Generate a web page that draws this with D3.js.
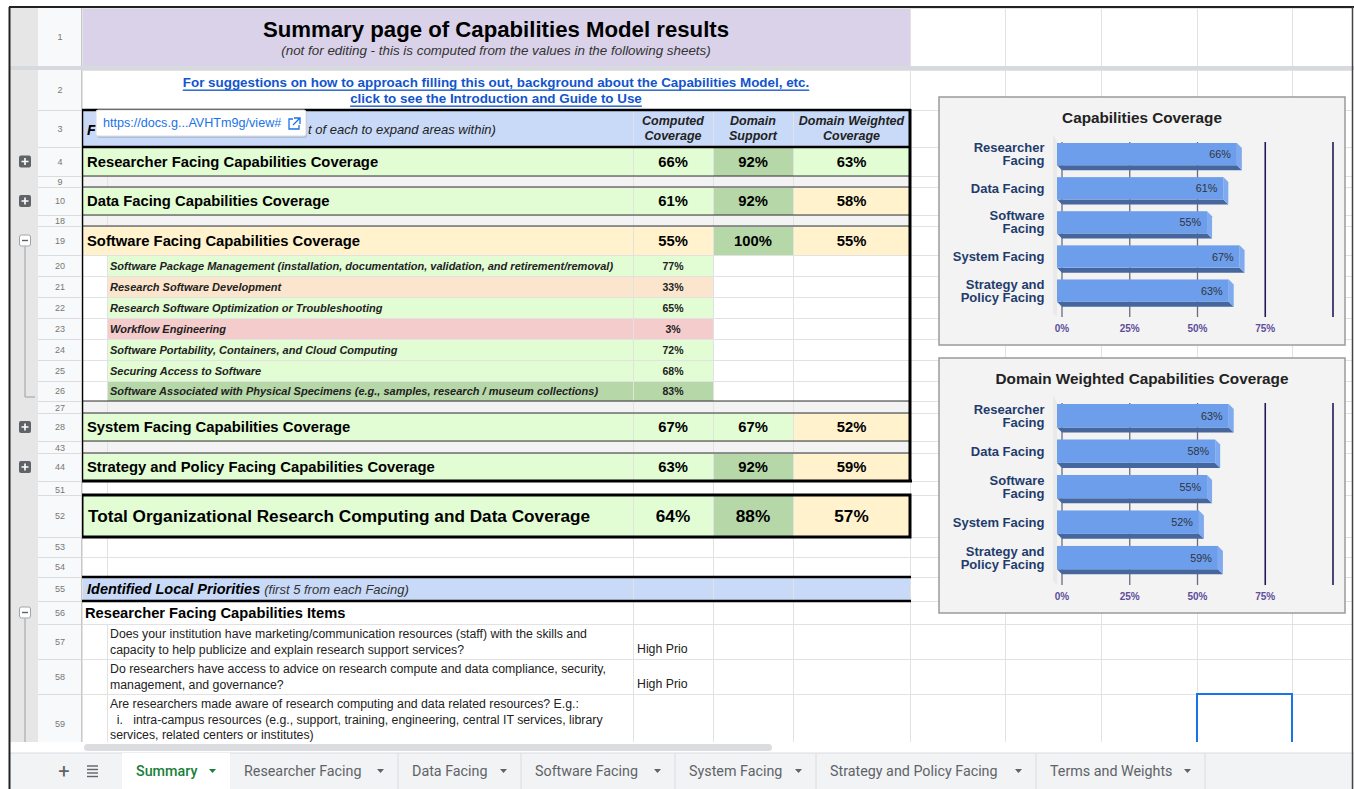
<!DOCTYPE html>
<html>
<head>
<meta charset="utf-8">
<script src="https://cdn.jsdelivr.net/npm/d3@7"></script>
<style>
  html, body { margin: 0; padding: 0; background: #fff; overflow: hidden; }
  svg { display: block; font-family: "Liberation Sans", Arial, sans-serif; }
</style>
</head>
<body>
<div id="sheet"></div>
<script>
// values
const facings = ["Researcher Facing", "Data Facing", "Software Facing", "System Facing", "Strategy and Policy Facing"];
const facingRows = [4, 10, 19, 28, 44];
const computedCoverage = [66, 61, 55, 67, 63];
const domainSupport = [92, 92, 100, 67, 92];
const weightedCoverage = [63, 58, 55, 52, 59];
const totalCoverage = [64, 88, 57];

const softwareItems = [
    "Software Package Management (installation, documentation, validation, and retirement/removal)",
    "Research Software Development",
    "Research Software Optimization or Troubleshooting",
    "Workflow Engineering",
    "Software Portability, Containers, and Cloud Computing",
    "Securing Access to Software",
    "Software Associated with Physical Specimens (e.g., samples, research / museum collections)"
];
const softwareCoverage = [77, 33, 65, 3, 72, 68, 83];

const chartLabels = [["Researcher", "Facing"], ["Data Facing"], ["Software", "Facing"], ["System Facing"], ["Strategy and", "Policy Facing"]];
const axisTicks = [0, 25, 50, 75, 100];

const priorityQuestions = [
    ["Does your institution have marketing/communication resources (staff) with the skills and",
     "capacity to help publicize and explain research support services?"],
    ["Do researchers have access to advice on research compute and data compliance, security,",
     "management, and governance?"],
    ["Are researchers made aware of research computing and data related resources? E.g.:",
     "  i.   intra-campus resources (e.g., support, training, engineering, central IT services, library",
     "services, related centers or institutes)"]
];
const priorityFlags = ["High Prio", "High Prio", ""];

const tabNames = ["Summary", "Researcher Facing", "Data Facing", "Software Facing", "System Facing", "Strategy and Policy Facing", "Terms and Weights"];

// sheet geometry
const W = 1354, H = 789;
const colX = [82, 107, 633, 713, 793, 910, 1005, 1101, 1197, 1292, 1352];
const rowNums = [1, 2, 3, 4, 9, 10, 18, 19, 20, 21, 22, 23, 24, 25, 26, 27, 28, 43, 44, 51, 52, 53, 54, 55, 56, 57, 58, 59];
const rowHs =   [58, 40, 37, 29, 11, 28, 11, 29, 21, 21, 21, 21, 21, 21, 20, 12, 28, 12, 28, 14, 42, 20, 20, 24, 23, 35, 35, 60];
const tabEdges = [122, 230, 398, 521, 675, 816, 1036, 1205];

const rowTop = {}, rowH = {};
let yy = 8;
rowNums.forEach((r, i) => {
    rowTop[r] = yy; rowH[r] = rowHs[i];
    yy += rowHs[i];
    if (r === 1) yy += 4;   // frozen row divider
});
const mid = r => rowTop[r] + rowH[r] / 2;
const colMid = c => (colX[c] + colX[c + 1]) / 2;

function fillFor(v) {
    if (v < 10) return "#f4cccc";
    if (v < 50) return "#fce5cd";
    if (v < 60) return "#fff2cc";
    if (v < 80) return "#e2fcd4";
    return "#b6d7a8";
}

const svg = d3.select("#sheet").append("svg").attr("width", W).attr("height", H);

svg.append("clipPath").attr("id", "gridClip")
    .append("rect").attr("x", 0).attr("y", 0).attr("width", W).attr("height", 742);

const grid = svg.append("g").attr("clip-path", "url(#gridClip)");

function cell(r, c0, c1, fill) {
    grid.append("rect")
        .attr("x", colX[c0]).attr("y", rowTop[r])
        .attr("width", colX[c1 + 1] - colX[c0]).attr("height", rowH[r])
        .attr("fill", fill || "#fff")
        .attr("stroke", "#e2e2e2").attr("stroke-width", 1)
        .attr("shape-rendering", "crispEdges");
}

function txt(parent, x, y, s, o) {
    o = o || {};
    return parent.append("text")
        .attr("x", x).attr("y", y)
        .attr("dominant-baseline", "central")
        .attr("text-anchor", o.anchor || "start")
        .attr("font-size", o.size || 12)
        .attr("font-weight", o.weight || "normal")
        .attr("font-style", o.style || "normal")
        .attr("fill", o.fill || "#000")
        .attr("text-decoration", o.deco || null)
        .text(s);
}

// build cells row by row
rowNums.forEach(r => {
    const fi = facingRows.indexOf(r);
    const si = r - 20;
    if (r === 1) { cell(r, 0, 4, "#d9d2e9"); }
    else if (r === 2) { cell(r, 0, 4); }
    else if (r === 3 || r === 55) { cell(r, 0, 1, "#c9daf8"); [2, 3, 4].forEach(c => cell(r, c, c, "#c9daf8")); }
    else if (fi >= 0) {
        cell(r, 0, 1, fillFor(computedCoverage[fi]));
        cell(r, 2, 2, fillFor(computedCoverage[fi]));
        cell(r, 3, 3, fillFor(domainSupport[fi]));
        cell(r, 4, 4, fillFor(weightedCoverage[fi]));
    }
    else if ([9, 18, 27, 43].includes(r)) { [0, 1, 2, 3, 4].forEach(c => cell(r, c, c, "#f3f3f3")); }
    else if (si >= 0 && si < softwareItems.length) {
        cell(r, 0, 0);
        cell(r, 1, 1, fillFor(softwareCoverage[si]));
        cell(r, 2, 2, fillFor(softwareCoverage[si]));
        cell(r, 3, 3); cell(r, 4, 4);
    }
    else if (r === 52) {
        cell(r, 0, 1, fillFor(totalCoverage[0]));
        cell(r, 2, 2, fillFor(totalCoverage[0]));
        cell(r, 3, 3, fillFor(totalCoverage[1]));
        cell(r, 4, 4, fillFor(totalCoverage[2]));
    }
    else if (r === 56) { cell(r, 0, 1); [2, 3, 4].forEach(c => cell(r, c, c)); }
    else { [0, 1, 2, 3, 4].forEach(c => cell(r, c, c)); }
    // columns right of the table
    for (let c = 5; c < 10; c++) cell(r, c, c);
});

// cell texts
const tableMid = (colX[0] + colX[5]) / 2;
txt(grid, tableMid, 29, "Summary page of Capabilities Model results", { anchor: "middle", size: 22.2, weight: "bold" });
txt(grid, tableMid, 50, "(not for editing - this is computed from the values in the following sheets)", { anchor: "middle", size: 13.4, style: "italic", fill: "#333" });
txt(grid, tableMid, 82, "For suggestions on how to approach filling this out, background about the Capabilities Model, etc.", { anchor: "middle", size: 13.4, weight: "bold", fill: "#1155cc", deco: "underline" });
txt(grid, tableMid, 98, "click to see the Introduction and Guide to Use", { anchor: "middle", size: 13.4, weight: "bold", fill: "#1155cc", deco: "underline" });

// row 3 heading, partly hidden by the link preview popup
txt(grid, 87, mid(3) + 1, "F", { size: 14.5, weight: "bold", style: "italic" });
txt(grid, 308, mid(3) + 1, "t of each to expand areas within)", { size: 13, style: "italic", fill: "#222" });

[["Computed", "Coverage"], ["Domain", "Support"], ["Domain Weighted", "Coverage"]].forEach((lines, i) => {
    lines.forEach((l, j) => txt(grid, colMid(i + 2), 121 + j * 15, l, { anchor: "middle", size: 12.5, weight: "bold", style: "italic", fill: "#222" }));
});

facings.forEach((f, i) => {
    const r = facingRows[i];
    txt(grid, 87, mid(r), f + " Capabilities Coverage", { size: 14.8, weight: "bold" });
    txt(grid, colMid(2), mid(r), computedCoverage[i] + "%", { anchor: "middle", size: 14.8, weight: "bold" });
    txt(grid, colMid(3), mid(r), domainSupport[i] + "%", { anchor: "middle", size: 14.8, weight: "bold" });
    txt(grid, colMid(4), mid(r), weightedCoverage[i] + "%", { anchor: "middle", size: 14.8, weight: "bold" });
});

softwareItems.forEach((s, i) => {
    const r = 20 + i;
    txt(grid, 110, mid(r), s, { size: 11, weight: "bold", style: "italic", fill: "#222" });
    txt(grid, colMid(2), mid(r), softwareCoverage[i] + "%", { anchor: "middle", size: 10.5, weight: "bold", fill: "#222" });
});

txt(grid, 88, mid(52), "Total Organizational Research Computing and Data Coverage", { size: 17.2, weight: "bold" });
totalCoverage.forEach((v, i) => txt(grid, colMid(i + 2), mid(52), v + "%", { anchor: "middle", size: 17.2, weight: "bold" }));

const r55 = grid.append("text").attr("x", 87).attr("y", mid(55)).attr("dominant-baseline", "central");
r55.append("tspan").attr("font-size", 14.5).attr("font-weight", "bold").attr("font-style", "italic").text("Identified Local Priorities ");
r55.append("tspan").attr("font-size", 13).attr("font-style", "italic").attr("fill", "#333").text("(first 5 from each Facing)");

txt(grid, 85, mid(56), "Researcher Facing Capabilities Items", { size: 14.7, weight: "bold" });

priorityQuestions.forEach((lines, i) => {
    const r = 57 + i;
    lines.forEach((l, j) => txt(grid, 110, rowTop[r] + 10 + j * 15.5, l, { size: 12.3, fill: "#222" }).attr("xml:space", "preserve"));
    if (priorityFlags[i]) txt(grid, 637, rowTop[r] + rowH[r] - 10, priorityFlags[i], { size: 12.3, fill: "#222" });
});

// heavy borders
function hline(y, x0, x1, w, c) {
    grid.append("line").attr("x1", x0).attr("x2", x1).attr("y1", y).attr("y2", y)
        .attr("stroke", c || "#000").attr("stroke-width", w);
}
function vline(x, y0, y1, w, c) {
    grid.append("line").attr("x1", x).attr("x2", x).attr("y1", y0).attr("y2", y1)
        .attr("stroke", c || "#000").attr("stroke-width", w);
}
hline(110, 81, 911, 2.5);
hline(147, 81, 911, 2.5);
[176, 187, 215, 226, 401, 413, 441, 453].forEach(y => hline(y, 82, 910, 1.2, "#333"));
hline(481, 81, 912, 3);
vline(82, 109, 482, 2.5);
vline(910, 109, 482, 3);
grid.append("rect").attr("x", 82).attr("y", 495).attr("width", 828).attr("height", 42)
    .attr("fill", "none").attr("stroke", "#000").attr("stroke-width", 3);
hline(577, 81, 911, 2.5);
hline(601, 81, 911, 2.5);

// selected cell
grid.append("rect").attr("x", colX[8]).attr("y", rowTop[59]).attr("width", colX[9] - colX[8]).attr("height", 50)
    .attr("fill", "none").attr("stroke", "#1a73e8").attr("stroke-width", 2);

// row header and grouping gutter
const side = svg.append("g").attr("clip-path", "url(#gridClip)");
side.append("rect").attr("x", 10).attr("y", 8).attr("width", 28).attr("height", 734).attr("fill", "#e6e6e6");
side.append("rect").attr("x", 38).attr("y", 8).attr("width", 44).attr("height", 734).attr("fill", "#f8f9fa");
vline(38, 8, 742, 1, "#c8c8c8");
rowNums.forEach(r => {
    side.append("line").attr("x1", 38).attr("x2", 82).attr("y1", rowTop[r] + rowH[r]).attr("y2", rowTop[r] + rowH[r])
        .attr("stroke", "#dcdcdc").attr("shape-rendering", "crispEdges");
    side.append("text").attr("x", 60).attr("y", rowH[r] < 15 ? rowTop[r] + rowH[r] - 2 : mid(r))
        .attr("text-anchor", "middle").attr("dominant-baseline", rowH[r] < 15 ? "auto" : "central")
        .attr("font-size", 9).attr("fill", "#777").text(r);
});
side.append("line").attr("x1", 81.5).attr("x2", 81.5).attr("y1", 8).attr("y2", 742).attr("stroke", "#c8c8c8");

[4, 10, 28, 44].forEach(r => {
    const cy = mid(r);
    side.append("rect").attr("x", 19).attr("y", cy - 6).attr("width", 12).attr("height", 12).attr("rx", 2).attr("fill", "#5f6368");
    side.append("path").attr("d", `M21.5,${cy}H28.5M25,${cy - 3.5}V${cy + 3.5}`).attr("stroke", "#fff").attr("stroke-width", 1.6);
});
[19, 56].forEach(r => {
    const cy = mid(r);
    side.append("rect").attr("x", 19.5).attr("y", cy - 5.5).attr("width", 11).attr("height", 11).attr("rx", 2)
        .attr("fill", "#fff").attr("stroke", "#a0a4a8");
    side.append("path").attr("d", `M22,${cy}H28`).attr("stroke", "#5f6368").attr("stroke-width", 1.4);
});
side.append("path").attr("d", `M25,${mid(19) + 6}V${rowTop[26] + 16}H35`).attr("fill", "none").attr("stroke", "#9aa0a6");
side.append("path").attr("d", `M25,${mid(56) + 6}V742`).attr("fill", "none").attr("stroke", "#9aa0a6");

// frozen row divider
svg.append("rect").attr("x", 10).attr("y", 66).attr("width", W - 10).attr("height", 4).attr("fill", "#d6d9de");

// link preview popup over row 3
const tip = svg.append("g");
tip.append("rect").attr("x", 97).attr("y", 112).attr("width", 210).attr("height", 26).attr("rx", 2)
    .attr("fill", "#000").attr("opacity", 0.12);
tip.append("rect").attr("x", 96).attr("y", 110).attr("width", 210).attr("height", 26).attr("rx", 2)
    .attr("fill", "#fff").attr("stroke", "#dadce0");
txt(tip, 103, 123, "https://docs.g...AVHTm9g/view#", { size: 12.6, fill: "#1a73e8" });
tip.append("path").attr("d", "M293,119H289V129H299V125M294,118H300V124M300,118L293,125")
    .attr("fill", "none").attr("stroke", "#1a73e8").attr("stroke-width", 1.3);

// ---- the two 3D bar charts ----
function drawChart(y0, h, title, values) {
    const g = svg.append("g").attr("transform", `translate(939,${y0})`);
    g.append("rect").attr("width", 406).attr("height", h)
        .attr("fill", "#f3f3f3").attr("stroke", "#9b9b9b").attr("stroke-width", 1.5);
    txt(g, 203, 20, title, { anchor: "middle", size: 15.3, weight: "bold", fill: "#222" });

    const gridTop = 45, gridBottom = h - 28, depth = 5;
    const x = d3.scaleLinear().domain([0, 100]).range([123, 394]);
    const y = d3.scaleBand().domain(facings).range([gridTop + 1, gridBottom])
        .paddingInner(0.2).paddingOuter(0.15).align(0);
    const maxV = d3.max(values);

    // faint side wall of the 3D plot
    g.append("path")
        .attr("d", `M${x(0) - 9},${gridTop - 8}L${x(0) - 5},${gridTop}V${gridBottom}L${x(0) - 9},${gridBottom - 4}Z`)
        .attr("fill", "#e9e9e9");

    g.selectAll("line.grid").data(axisTicks).join("line")
        .attr("class", "grid")
        .attr("x1", d => x(d)).attr("x2", d => x(d))
        .attr("y1", gridTop).attr("y2", gridBottom)
        .attr("stroke", d => d < maxV ? "#6c6a80" : "#201a58")
        .attr("stroke-width", d => d < maxV ? 1.3 : 1.6);

    g.selectAll("text.tick").data(axisTicks.filter(d => d < 100)).join("text")
        .attr("class", "tick")
        .attr("x", d => x(d)).attr("y", gridBottom + 11)
        .attr("text-anchor", "middle").attr("dominant-baseline", "central")
        .attr("font-size", 10).attr("font-weight", "bold").attr("fill", "#5e4e9c")
        .text(d => d + "%");

    const bars = g.selectAll("g.bar").data(facings).join("g").attr("class", "bar");
    bars.each(function (f, i) {
        const b = d3.select(this);
        const yt = y(f), yb = y(f) + y.bandwidth() - depth;
        const xl = x(0) - 5, xr = x(values[i]) - 4;
        b.append("path").attr("d", `M${xl},${yb}H${xr}L${xr + depth},${yb + depth}H${xl + depth}Z`).attr("fill", "#46679e");
        b.append("path").attr("d", `M${xr},${yt}L${xr + depth},${yt + depth}V${yb + depth}L${xr},${yb}Z`).attr("fill", "#7faaef");
        b.append("rect").attr("x", xl).attr("y", yt).attr("width", xr - xl).attr("height", yb - yt).attr("fill", "#6d9eeb");
        txt(b, xr - 6, (yt + yb) / 2, values[i] + "%", { anchor: "end", size: 10.8, fill: "#2f3440" });
        const lines = chartLabels[i];
        lines.forEach((l, j) => {
            txt(b, 105.5, (yt + yb) / 2 + (j - (lines.length - 1) / 2) * 12.8, l,
                { anchor: "end", size: 13, weight: "bold", fill: "#1f3c6d" });
        });
    });
}
drawChart(97, 248, "Capabilities Coverage", computedCoverage);
drawChart(358, 255, "Domain Weighted Capabilities Coverage", weightedCoverage);

// horizontal scrollbar
svg.append("rect").attr("x", 10).attr("y", 742).attr("width", W - 10).attr("height", 11).attr("fill", "#fff");
svg.append("rect").attr("x", 84).attr("y", 744).attr("width", 688).attr("height", 7).attr("rx", 3.5).attr("fill", "#dadce0");

// sheet tabs
const tabs = svg.append("g");
tabs.append("rect").attr("x", 10).attr("y", 753).attr("width", W - 10).attr("height", 36).attr("fill", "#f1f3f4");
tabs.append("line").attr("x1", 10).attr("x2", W).attr("y1", 753).attr("y2", 753).attr("stroke", "#dadce0");
txt(tabs, 64, 771, "+", { anchor: "middle", size: 20, fill: "#5f6368" }).attr("font-family", "Roboto, sans-serif");
[766, 769.5, 773, 776.5].forEach(yv => tabs.append("line").attr("x1", 87).attr("x2", 98).attr("y1", yv).attr("y2", yv)
    .attr("stroke", "#5f6368").attr("stroke-width", 1.4));
tabNames.forEach((t, i) => {
    const x0 = tabEdges[i], x1 = tabEdges[i + 1];
    const active = i === 0;
    if (active) tabs.append("rect").attr("x", x0).attr("y", 753).attr("width", x1 - x0).attr("height", 36).attr("fill", "#fff");
    else tabs.append("line").attr("x1", x1).attr("x2", x1).attr("y1", 753).attr("y2", 789).attr("stroke", "#dadce0");
    const col = active ? "#188038" : "#5f6368";
    txt(tabs, x0 + 14, 771, t, { size: 14.3, fill: col, weight: active ? 500 : "normal" }).attr("font-family", "Roboto, sans-serif");
    tabs.append("path").attr("d", `M${x1 - 21},769H${x1 - 14}L${x1 - 17.5},773Z`).attr("fill", col);
});

// outer frame of the screenshot
svg.append("line").attr("x1", 9).attr("x2", W).attr("y1", 7).attr("y2", 7).attr("stroke", "#222").attr("stroke-width", 2);
svg.append("line").attr("x1", 9.5).attr("x2", 9.5).attr("y1", 7).attr("y2", H).attr("stroke", "#222").attr("stroke-width", 2);
svg.append("line").attr("x1", 1352.5).attr("x2", 1352.5).attr("y1", 7).attr("y2", H).attr("stroke", "#444").attr("stroke-width", 1.5);
</script>
</body>
</html>
